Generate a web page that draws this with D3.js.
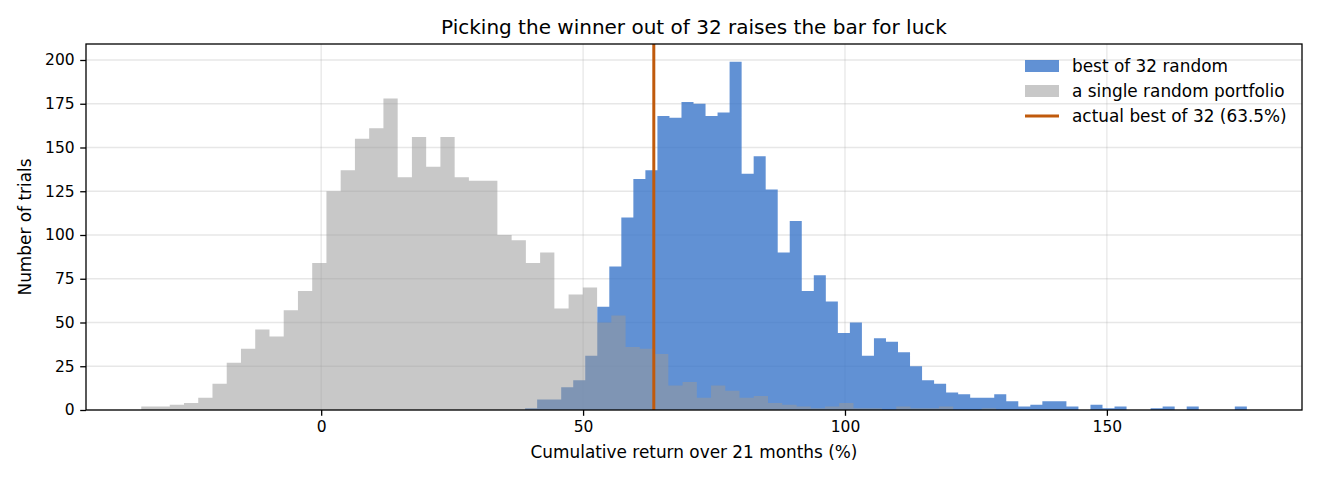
<!DOCTYPE html>
<html><head><meta charset="utf-8">
<script src="https://cdn.jsdelivr.net/npm/d3@7"></script>
<style>
body{margin:0;background:#fff}
svg{display:block}
text{font-family:"DejaVu Sans",sans-serif;fill:#000}
</style>
</head><body>
<svg id="chart" width="1320" height="480"></svg>
<script>
// ---- data ----
const titleText = "Picking the winner out of 32 raises the bar for luck";
const xLabelText = "Cumulative return over 21 months (%)";
const yLabelText = "Number of trials";

// histogram of a single random portfolio (60 bins)
const singleBinStart = -34.35;
const singleBinEnd = 128.82;
const singleCounts = [2,2,3,4,7,15,27,35,46,42, 57,68,84,125,137,155,161,178,133,156,
  139,156,133,131,131,100,97,84,90,58, 66,70,50,54,36,35,32,14,16,7,
  14,11,7,8,4,3,2,1,2,4, 1,1,0,2,1,1,2,0,0,1];

// histogram of the best of 32 random portfolios (60 bins)
const bestBinStart = 38.93;
const bestBinEnd = 176.72;
const bestCounts = [1,6,6,13,17,31,59,82,110,132, 137,168,167,176,175,168,170,199,135,145,
  126,90,108,68,77,62,44,50,31,41, 39,33,25,17,15,10,9,7,7,9,
  5,2,3,5,5,2,0,3,1,2, 0,0,1,2,0,2,0,0,0,2];

const actualBest = 63.5;
const xTicks = [0, 50, 100, 150];
const yTicks = [0, 25, 50, 75, 100, 125, 150, 175, 200];
const legendLabels = ["best of 32 random", "a single random portfolio", "actual best of 32 (63.5%)"];

// ---- layout ----
const W = 1320, H = 480;
const m = {left: 86, right: 1302, top: 44, bottom: 410};
const xDomain = [-44.9, 187.25];
const yDomain = [0, 209.14];

const colBest = "#3a75c9", opBest = 0.8;
const colSingle = "#999999", opSingle = 0.54;
const colLine = "#c05a0c";

const svg = d3.select("#chart");
const x = d3.scaleLinear().domain(xDomain).range([m.left, m.right]);
const y = d3.scaleLinear().domain(yDomain).range([m.bottom, m.top]);

// grid
const grid = svg.append("g");
grid.selectAll("line.v").data(xTicks).join("line")
  .attr("x1", d => x(d)).attr("x2", d => x(d)).attr("y1", m.top).attr("y2", m.bottom)
  .attr("stroke", "#b0b0b0").attr("stroke-opacity", 0.3).attr("stroke-width", 1.3);
grid.selectAll("line.h").data(yTicks).join("line")
  .attr("y1", d => y(d)).attr("y2", d => y(d)).attr("x1", m.left).attr("x2", m.right)
  .attr("stroke", "#b0b0b0").attr("stroke-opacity", 0.3).attr("stroke-width", 1.3);

function stepPoints(counts, start, end) {
  const w = (end - start) / counts.length;
  const pts = counts.map((c, i) => ({x: start + i * w, y: c}));
  pts.push({x: end, y: counts[counts.length - 1]});
  return pts;
}
const area = d3.area().curve(d3.curveStepAfter)
  .x(d => x(d.x)).y0(y(0)).y1(d => y(d.y));

svg.append("path").datum(stepPoints(bestCounts, bestBinStart, bestBinEnd))
  .attr("d", area).attr("fill", colBest).attr("fill-opacity", opBest);
svg.append("path").datum(stepPoints(singleCounts, singleBinStart, singleBinEnd))
  .attr("d", area).attr("fill", colSingle).attr("fill-opacity", opSingle);

// actual best line
svg.append("line")
  .attr("x1", x(actualBest)).attr("x2", x(actualBest))
  .attr("y1", m.top).attr("y2", m.bottom)
  .attr("stroke", colLine).attr("stroke-width", 3);

// axes
const xAxis = svg.append("g").attr("transform", `translate(0,${m.bottom})`)
  .call(d3.axisBottom(x).tickValues(xTicks).tickFormat(d3.format("d")).tickSize(5.8).tickPadding(5.5));
const yAxis = svg.append("g").attr("transform", `translate(${m.left},0)`)
  .call(d3.axisLeft(y).tickValues(yTicks).tickFormat(d3.format("d")).tickSize(5.8).tickPadding(5.5));
[xAxis, yAxis].forEach(a => {
  a.select(".domain").remove();
  a.selectAll(".tick line").attr("stroke", "#000").attr("stroke-width", 1.3);
  a.selectAll(".tick text").attr("font-family", "DejaVu Sans").attr("font-size", 15.5).attr("fill", "#000");
});

// spines
svg.append("rect").attr("x", m.left).attr("y", m.top)
  .attr("width", m.right - m.left).attr("height", m.bottom - m.top)
  .attr("fill", "none").attr("stroke", "#000").attr("stroke-width", 1.3);

// title & labels
svg.append("text").attr("x", (m.left + m.right) / 2).attr("y", 34)
  .attr("text-anchor", "middle").attr("font-size", 20).text(titleText);
svg.append("text").attr("x", (m.left + m.right) / 2).attr("y", 458)
  .attr("text-anchor", "middle").attr("font-size", 16.9).text(xLabelText);
svg.append("text").attr("transform", `translate(31,${(m.top + m.bottom) / 2}) rotate(-90)`)
  .attr("text-anchor", "middle").attr("font-size", 16.9).text(yLabelText);

// legend
const leg = svg.append("g").attr("transform", "translate(1025,0)");
const rows = [66, 91, 116];
leg.append("rect").attr("x", 0).attr("y", rows[0] - 6).attr("width", 34).attr("height", 12)
  .attr("fill", colBest).attr("fill-opacity", opBest);
leg.append("rect").attr("x", 0).attr("y", rows[1] - 6).attr("width", 34).attr("height", 12)
  .attr("fill", colSingle).attr("fill-opacity", opSingle);
leg.append("line").attr("x1", 0).attr("x2", 34).attr("y1", rows[2]).attr("y2", rows[2])
  .attr("stroke", colLine).attr("stroke-width", 3);
leg.selectAll("text.l").data(legendLabels).join("text")
  .attr("x", 47).attr("y", (d, i) => rows[i] + 6)
  .attr("font-size", 16.9).text(d => d);
</script>
</body></html>
